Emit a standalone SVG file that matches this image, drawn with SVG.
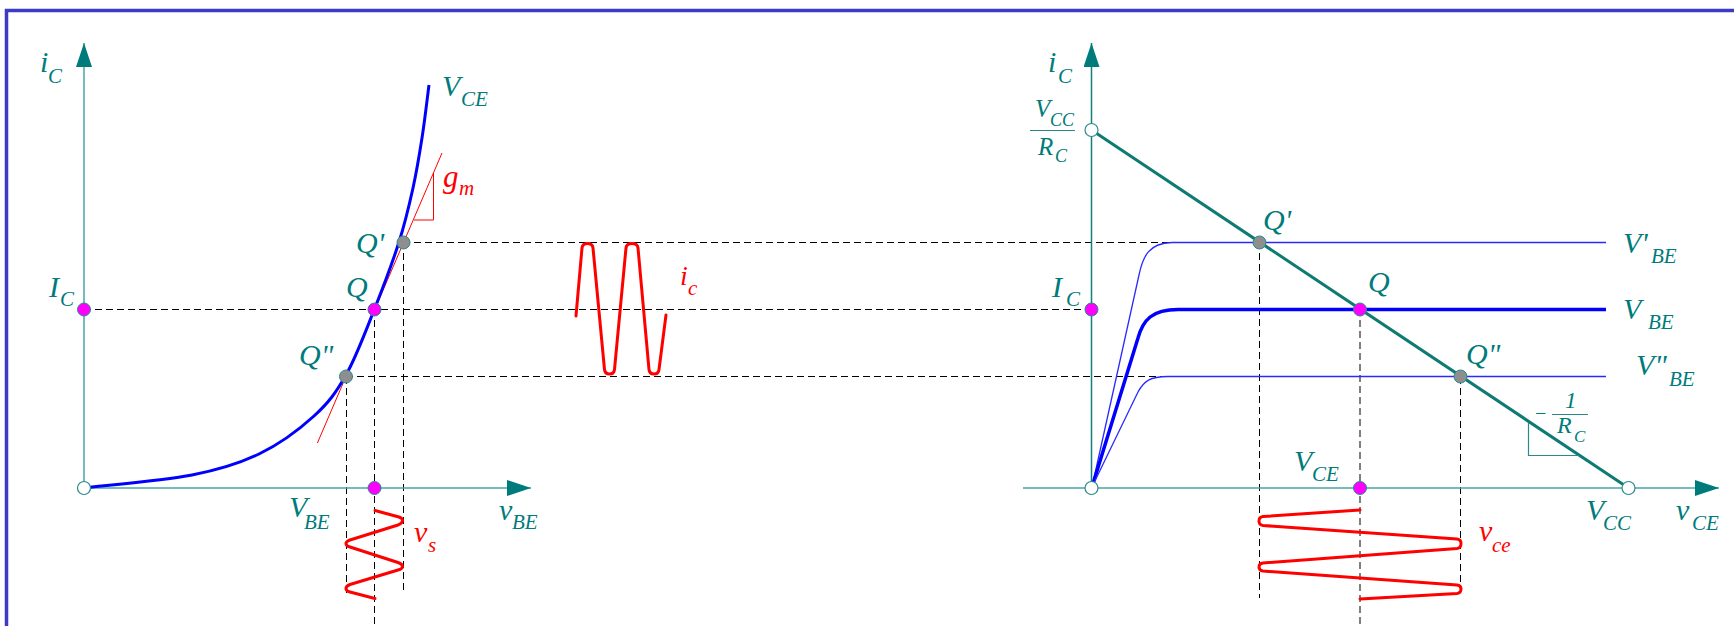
<svg xmlns="http://www.w3.org/2000/svg" width="1734" height="626" viewBox="0 0 1734 626">
<defs>
<marker id="arr" markerUnits="userSpaceOnUse" markerWidth="24" markerHeight="16" refX="24" refY="8" orient="auto">
<path d="M0,0 L24,8 L0,16 Z" fill="#007b7b"/>
</marker>
<style>
.t{font-family:"Liberation Serif","Times New Roman",serif;font-style:italic;fill:#007b7b}
.r{fill:#ff0000}
.b{font-size:30px}
.s{font-size:21px}
.fb{font-size:25px}
.fs{font-size:18px}
.dash{stroke:#000;stroke-width:1;stroke-dasharray:7 4;fill:none}
.ax{stroke:#4aa6a6;stroke-width:1.5;fill:none}
.axd{stroke:#137f7f;stroke-width:1.5;fill:none}
.mag{fill:#ff00ff;stroke:#2a8a8a;stroke-width:1}
.gry{fill:#8e8e8e;stroke:#2a8a8a;stroke-width:1}
.wht{fill:#ffffff;stroke:#2a8a8a;stroke-width:1.2}
.wave{stroke:#ff0000;stroke-width:3;fill:none;stroke-linejoin:round;stroke-linecap:round}
.thin{stroke:#2a2aff;stroke-width:1.3;fill:none}
.thick{stroke:#0000ff;stroke-width:3.5;fill:none}
</style>
</defs>
<rect width="1734" height="626" fill="#ffffff"/>
<g id="frame"><path d="M6.5,626 L6.5,10.5 L1734,10.5" stroke="#3b3bc6" stroke-width="3.5" fill="none"/></g>

<g id="connectors">
<path class="dash" d="M84,309.5 H1091"/>
<path class="dash" d="M403,242.5 H1172"/>
<path class="dash" d="M346,376.5 H1166"/>
<path class="dash" d="M346.5,377 V597"/>
<path class="dash" d="M374.5,309 V626"/>
<path class="dash" d="M403.5,242 V590"/>
<path class="dash" d="M1259.5,242 V598"/>
<path class="dash" d="M1360,309 V626"/>
<path class="dash" d="M1460.5,377 V595"/>
</g>

<g id="left-axes">
<path class="ax" d="M84,488 V43" marker-end="url(#arr)"/>
<path class="ax" d="M84,488 H531" marker-end="url(#arr)"/>
<text class="t b" x="40" y="72">i</text><text class="t s" x="48" y="83">C</text>
<text class="t b" x="499" y="520">v</text><text class="t s" x="512" y="529">BE</text>
</g>

<g id="tangent">
<path d="M442,153 L317.4,443" stroke="#ff0000" stroke-width="1" fill="none"/>
<path d="M414,220 H433.5 V173" stroke="#ff0000" stroke-width="1" fill="none"/>
<text class="t r" style="font-size:31px" x="443" y="187">g</text><text class="t r s" x="459" y="195">m</text>
</g>

<g id="transfer-curve">
<path d="M84,488 C102,485.8 162.8,480.7 192,475 C221.2,469.3 238.7,463.8 259,454 C279.3,444.2 299.5,429.2 314,416 C328.5,402.8 335.9,392.8 346,375 C356.1,357.2 365.7,331.2 374.5,309 C383.3,286.8 392.6,262.2 399,242 C405.4,221.8 409.2,205.3 413,188 C416.8,170.7 419.3,155.2 422,138 C424.7,120.8 427.8,93.8 429,85" stroke="#0000ff" stroke-width="3" fill="none"/>
<text class="t b" x="442" y="96">V</text><text class="t s" x="461" y="106">CE</text>
</g>

<g id="vs-wave">
<path class="wave" d="M375,510.5 L399,517 Q403,518.5 402.5,521 Q402,523.5 398,525 L350,540 Q346,541.5 346,543.5 Q346,546 350,547 L398,562.5 Q402.5,564 402.5,566.5 Q402.5,569 398,570 L350,584.5 Q346,586 346,588.5 Q346,591 350,592 L375,598.5"/>
<text class="t r b" x="414" y="542">v</text><text class="t r s" x="428" y="552">s</text>
</g>

<g id="ic-wave">
<path class="wave" d="M576,316 L582,248 Q582.5,243.5 587.5,243.5 Q592.5,243.5 593,248 L604.5,369.5 Q605,374 609.5,374 Q614,374 614.5,369.5 L626,248 Q626.5,243.5 632,243.5 Q637.5,243.5 638,248 L649,369.5 Q649.5,374 654,374 Q658.5,374 659,369.5 L666,315"/>
<text class="t r" style="font-size:28px" x="680" y="285">i</text><text class="t r s" x="688" y="295">c</text>
</g>

<g id="node-origin-left"><circle class="wht" cx="84" cy="488" r="6.5"/></g>
<g id="node-IC-left"><circle class="mag" cx="84" cy="309.5" r="6.5"/>
<text class="t b" x="49" y="297">I</text><text class="t s" x="60" y="306">C</text></g>
<g id="node-Q-left"><circle class="mag" cx="374.5" cy="309.5" r="6.5"/>
<text class="t b" x="346" y="297">Q</text></g>
<g id="node-Qp-left"><circle class="gry" cx="403.5" cy="242.5" r="6.5"/>
<text class="t b" x="356" y="253">Q'</text></g>
<g id="node-Qpp-left"><circle class="gry" cx="346" cy="376.5" r="6.5"/>
<text class="t b" x="299" y="365">Q"</text></g>
<g id="node-VBE"><circle class="mag" cx="374.5" cy="488" r="6.5"/>
<text class="t b" x="289" y="517">V</text><text class="t s" x="304" y="529">BE</text></g>

<g id="right-axes">
<path class="axd" d="M1091.5,488 V43" marker-end="url(#arr)"/>
<path class="ax" d="M1023,488 H1719" marker-end="url(#arr)"/>
<text class="t b" x="1048" y="72">i</text><text class="t s" x="1058" y="83">C</text>
<text class="t b" x="1676" y="520">v</text><text class="t s" x="1692" y="530">CE</text>
</g>

<g id="output-curves">
<path class="thin" d="M1092,487 L1139,275 C1143,256 1149,243 1172,242.5 L1606,242.5"/>
<path class="thick" d="M1092,487 L1138,338 C1143,320 1152,309.5 1178,309.5 L1606,309.5"/>
<path class="thin" d="M1092,487 L1138,392 C1144,381 1150,376.5 1168,376.5 L1606,376.5"/>
<text class="t b" x="1623" y="253">V'</text><text class="t s" x="1651" y="263">BE</text>
<text class="t b" x="1623" y="319">V</text><text class="t s" x="1648" y="329">BE</text>
<text class="t b" x="1636" y="375">V"</text><text class="t s" x="1669" y="386">BE</text>
</g>

<g id="load-line">
<path d="M1091.5,130 L1628.5,488" stroke="#0f7a74" stroke-width="3" fill="none"/>
<path d="M1528.5,423 V455.5 H1579" stroke="#2a8a8a" stroke-width="1.2" fill="none"/>
<text class="t" style="font-size:20px" x="1534" y="420">−</text>
<text class="t" style="font-size:23px" x="1565" y="408">1</text>
<path d="M1552,414.5 H1588" stroke="#2a8a8a" stroke-width="1"/>
<text class="t" style="font-size:24px" x="1557" y="433">R</text><text class="t" style="font-size:17px" x="1574" y="442">C</text>
</g>

<g id="vce-wave">
<path class="wave" d="M1360,510 L1263,516.5 Q1259,517 1259,521 Q1259,525 1263,525.5 L1457,539 Q1461,539.5 1461,543.5 Q1461,548 1457,548.5 L1263,563 Q1259,563.5 1259,567 Q1259,570.5 1263,571 L1457,585 Q1461,585.5 1461,589 Q1461,593 1457,593.5 L1360,599"/>
<text class="t r b" x="1479" y="541">v</text><text class="t r s" x="1492" y="552">ce</text>
</g>

<g id="node-VccRc"><circle class="wht" cx="1091.5" cy="130" r="6.5"/>
<text class="t fb" x="1035" y="117">V</text><text class="t fs" x="1050" y="126">CC</text>
<path d="M1030,130.5 H1075" stroke="#2a8a8a" stroke-width="1"/>
<text class="t fb" x="1038" y="155">R</text><text class="t fs" x="1055" y="162">C</text></g>
<g id="node-origin-right"><circle class="wht" cx="1091.5" cy="488" r="6.5"/></g>
<g id="node-Vcc"><circle class="wht" cx="1628.5" cy="488" r="6.5"/>
<text class="t b" x="1586" y="520">V</text><text class="t s" x="1603" y="530">CC</text></g>
<g id="node-IC-right"><circle class="mag" cx="1091.5" cy="309.5" r="6.5"/>
<text class="t b" x="1052" y="297">I</text><text class="t s" x="1066" y="306">C</text></g>
<g id="node-Q-right"><circle class="mag" cx="1360" cy="309.5" r="6.5"/>
<text class="t b" x="1368" y="292">Q</text></g>
<g id="node-Qp-right"><circle class="gry" cx="1259.5" cy="242.5" r="6.5"/>
<text class="t b" x="1263" y="230">Q'</text></g>
<g id="node-Qpp-right"><circle class="gry" cx="1460.5" cy="376.5" r="6.5"/>
<text class="t b" x="1466" y="364">Q"</text></g>
<g id="node-VCE"><circle class="mag" cx="1360" cy="488" r="6.5"/>
<text class="t b" x="1294" y="471">V</text><text class="t s" x="1312" y="481">CE</text></g>
</svg>
